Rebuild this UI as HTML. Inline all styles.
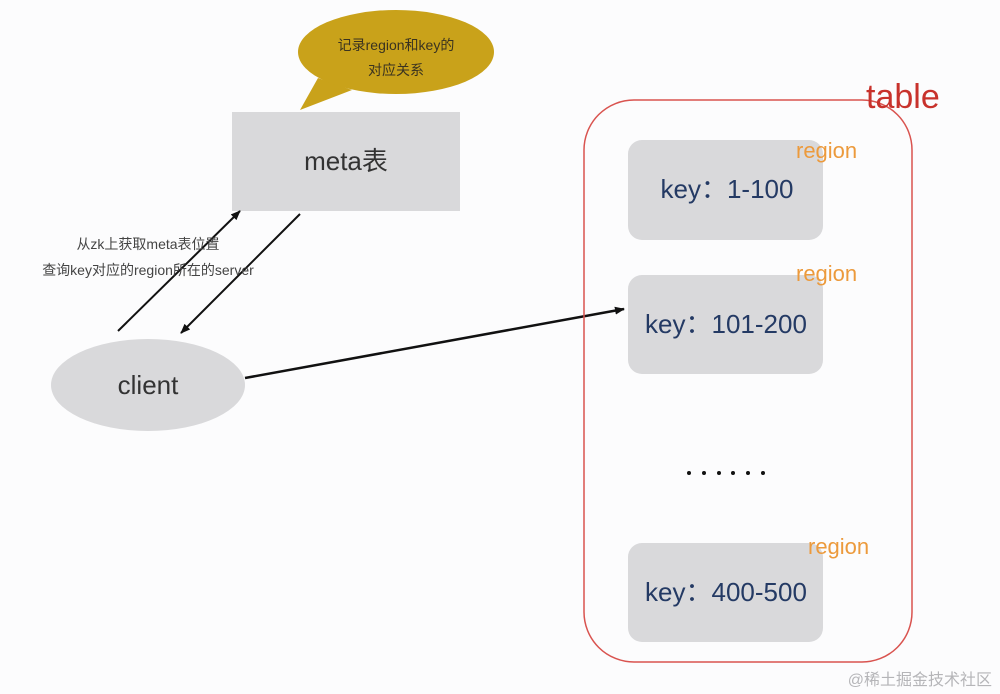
<!DOCTYPE html>
<html><head><meta charset="utf-8"><style>
html,body{margin:0;padding:0;background:#fcfcfd;}
svg{display:block;}
text{font-family:"Liberation Sans","Noto Sans CJK SC",sans-serif;}
</style></head><body>
<svg width="1000" height="694" viewBox="0 0 1000 694" xmlns="http://www.w3.org/2000/svg">
<defs>
<marker id="ah" markerWidth="10" markerHeight="8" refX="9" refY="4" orient="auto" markerUnits="userSpaceOnUse">
<path d="M0,0 L10,4 L0,8 z" fill="#111"/></marker>
</defs>
<rect width="1000" height="694" fill="#fcfcfd"/>
<!-- bubble -->
<path d="M318,78 L300,110 L352,90 Z" fill="#c9a21a"/>
<ellipse cx="396" cy="52" rx="98" ry="42" fill="#c9a21a"/>
<text x="396" y="50" font-size="14" fill="#3a3320" text-anchor="middle">记录region和key的</text>
<text x="396" y="75" font-size="14" fill="#3a3320" text-anchor="middle">对应关系</text>
<!-- meta -->
<rect x="232" y="112" width="228" height="99" fill="#d9d9db"/>
<text x="346" y="170" font-size="26" fill="#333" text-anchor="middle">meta表</text>
<!-- arrows -->
<line x1="118" y1="331" x2="240" y2="211" stroke="#111" stroke-width="2" marker-end="url(#ah)"/>
<line x1="300" y1="214" x2="181" y2="333" stroke="#111" stroke-width="2" marker-end="url(#ah)"/>
<text x="148" y="249" font-size="14" fill="#444" text-anchor="middle">从zk上获取meta表位置</text>
<text x="148" y="275" font-size="14" fill="#444" text-anchor="middle">查询key对应的region所在的server</text>
<!-- client -->
<ellipse cx="148" cy="385" rx="97" ry="46" fill="#d9d9db"/>
<text x="148" y="394" font-size="26" fill="#333" text-anchor="middle">client</text>
<line x1="245" y1="378" x2="624" y2="309" stroke="#111" stroke-width="2.5" marker-end="url(#ah)"/>
<!-- table -->
<rect x="584" y="100" width="328" height="562" rx="50" fill="none" stroke="#d9534f" stroke-width="1.5"/>
<text x="866" y="108" font-size="34" fill="#c8322c">table</text>
<rect x="628" y="140" width="195" height="100" rx="14" fill="#d9d9db"/>
<rect x="628" y="275" width="195" height="99" rx="14" fill="#d9d9db"/>
<rect x="628" y="543" width="195" height="99" rx="14" fill="#d9d9db"/>
<text x="796" y="158" font-size="22" fill="#ec9a3c">region</text>
<text x="796" y="281" font-size="22" fill="#ec9a3c">region</text>
<text x="808" y="554" font-size="22" fill="#ec9a3c">region</text>
<text x="727" y="198" font-size="26" fill="#243a64" text-anchor="middle">key：1-100</text>
<text x="726" y="333" font-size="26" fill="#243a64" text-anchor="middle">key：101-200</text>
<text x="726" y="601" font-size="26" fill="#243a64" text-anchor="middle">key：400-500</text>
<g fill="#111">
<circle cx="689" cy="473" r="2"/><circle cx="704" cy="473" r="2"/><circle cx="719" cy="473" r="2"/>
<circle cx="733" cy="473" r="2"/><circle cx="748" cy="473" r="2"/><circle cx="763" cy="473" r="2"/>
</g>
<text x="992" y="685" font-size="16" fill="#b5b5b8" text-anchor="end">@稀土掘金技术社区</text>
</svg>
</body></html>
